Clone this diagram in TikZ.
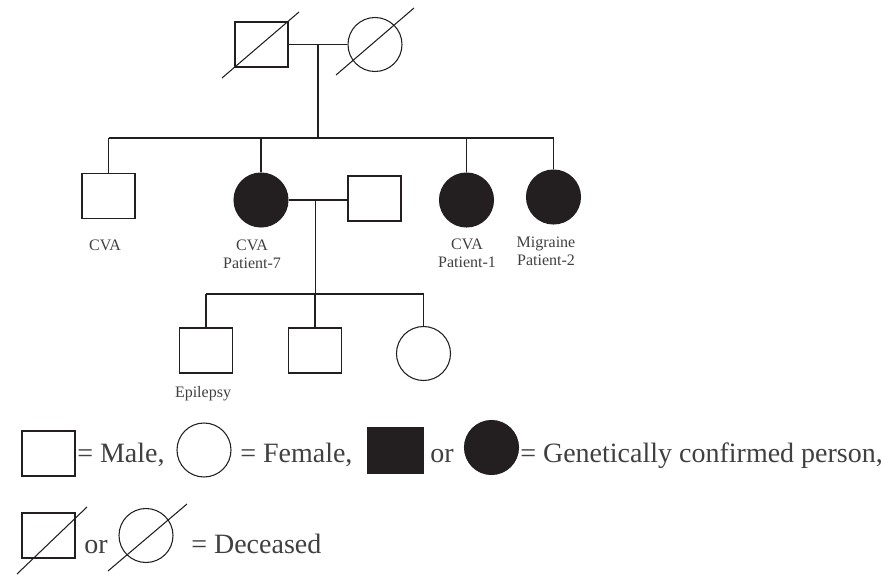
\documentclass[tikz,border=0pt]{standalone}
\usepackage{fontspec}
\setmainfont{Liberation Serif}
\usetikzlibrary{calc}
\definecolor{ink}{RGB}{35,31,32}
\definecolor{txt}{RGB}{64,64,64}

\begin{document}
\begin{tikzpicture}[x=0.75pt,y=-0.75pt,
    every node/.style={inner sep=0pt},
    line/.style={draw=ink, line width=0.8pt},
    male/.style={line, rectangle, minimum width=39.75pt, minimum height=33.75pt},
    female/.style={line, circle, minimum size=40.5pt},
    aff/.style={fill=ink},
    lbl/.style={text=txt, font=\fontsize{12}{13}\selectfont, align=center, anchor=base},
    key/.style={text=txt, font=\fontsize{21}{24}\selectfont, anchor=base west}]
                \useasboundingbox (0,0) rectangle (889,575);

                % grandparents
                \node [male] (gf) at (261.5,44.5) {};
                \node [female] (gm) at (375,44.5) {};
                \draw[line] ($(gf)+(-39.5,33.5)$) -- ($(gf)+(37.5,-32.5)$);
                \draw[line] ($(gm)+(-39,30.5)$) -- ($(gm)+(39,-36.5)$);
                \draw[line] (gf.east) -- (gm.west);
                \coordinate (m1) at ($(gf.east)!0.5!(gm.west)$);
                \coordinate (s1) at ($(m1)+(0,93.5)$);
                \draw[line] (m1) -- (s1);

                % children
                \node [male] (c1) at (108.5,196) {};
                \node [female, aff] (c2) at (261,200) {};
                \node [male] (c2s) at (374.5,198.5) {};
                \node [female, aff] (c3) at (466.5,200) {};
                \node [female, aff] (c4) at (553.5,197) {};

                \draw[line] (c1.north |- s1) -- (c4.north |- s1);
                \foreach \k in {c1,c2,c3,c4}
                    \draw[line] (\k.north) -- (\k.north |- s1);

                \draw[line] (c2.east) -- (c2.east -| c2s.west);
                \coordinate (m2) at ($(c2.east)!0.45!(c2.east -| c2s.west)$);
                \coordinate (s2) at ($(m2)+(0,94)$);
                \draw[line] (m2) -- (s2);

                % grandchildren
                \node [male] (g1) at (206,350.5) {};
                \node [male] (g2) at (315,350.5) {};
                \node [female] (g3) at (423.5,353.5) {};

                \draw[line] (g1.north |- s2) -- (g3.north |- s2);
                \foreach \k in {g1,g2,g3}
                    \draw[line] (\k.north) -- (\k.north |- s2);

                % base of a two-line label is its last line
                \node [lbl] (l1) at (105,250) {CVA};
                \node [lbl] (l2) at (252,268) {CVA\\Patient-7};
                \node [lbl] (l3) at (467,267) {CVA\\Patient-1};
                \node [lbl] (l4) at (546,265) {Migraine\\Patient-2};
                \node [lbl] (l5) at (203,397) {Epilepsy};

                % key
                \node [male] (km) at (48.5,453.5) {};
                \node [key] (tm) at (77,462) {= Male,};
                \node [female] (kf) at (204,450) {};
                \node [key] (tf) at (240,462) {= Female,};
                \node [male, aff, minimum width=41.25pt] (ka) at (395.5,450.5) {};
                \node [key] (tor) at (430,462) {or};
                \node [female, aff] (kb) at (491.5,447.5) {};
                \node [key] (ta) at (520,462) {= Genetically confirmed person,};

                \node [male] (kd) at (48.5,535.5) {};
                \draw[line] ($(kd)+(-31.5,38.5)$) -- ($(kd)+(38.5,-28.5)$);
                \node [key] (tor2) at (84,553) {or};
                \node [female] (ke) at (146,535.5) {};
                \draw[line] ($(ke)+(-38,35.5)$) -- ($(ke)+(41,-31.5)$);
                \node [key] (td) at (191,553) {= Deceased};

                \end{tikzpicture}
\end{document}
